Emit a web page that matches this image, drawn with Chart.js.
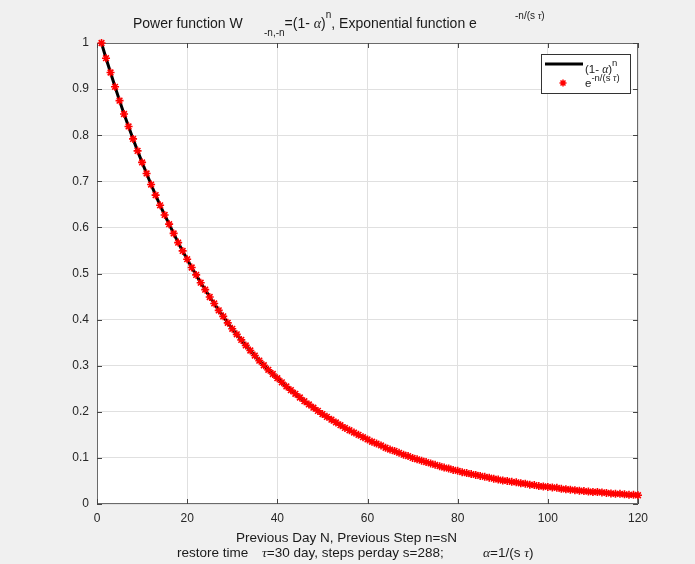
<!DOCTYPE html>
<html>
<head>
<meta charset="utf-8">
<script src="https://cdn.jsdelivr.net/npm/chart.js@4/dist/chart.umd.min.js"></script>
<style>
  html, body { margin: 0; padding: 0; background: #f0f0f0; }
  #wrap { width: 695px; height: 564px; }
</style>
</head>
<body>
<div id="wrap"><canvas id="graph" width="695" height="564"></canvas></div>
<script>
// previous day index N
const days = [
    1, 2, 3, 4, 5, 6, 7, 8, 9, 10, 11, 12, 13, 14, 15, 16, 17, 18, 19, 20,
    21, 22, 23, 24, 25, 26, 27, 28, 29, 30, 31, 32, 33, 34, 35, 36, 37, 38, 39, 40,
    41, 42, 43, 44, 45, 46, 47, 48, 49, 50, 51, 52, 53, 54, 55, 56, 57, 58, 59, 60,
    61, 62, 63, 64, 65, 66, 67, 68, 69, 70, 71, 72, 73, 74, 75, 76, 77, 78, 79, 80,
    81, 82, 83, 84, 85, 86, 87, 88, 89, 90, 91, 92, 93, 94, 95, 96, 97, 98, 99, 100,
    101, 102, 103, 104, 105, 106, 107, 108, 109, 110, 111, 112, 113, 114, 115, 116, 117, 118, 119, 120,
]
// both curves sit on top of each other in the picture, so one set of readings
const weights = [
    1.000, 0.967, 0.936, 0.905, 0.875, 0.846, 0.819, 0.792, 0.766, 0.741,
    0.717, 0.693, 0.670, 0.648, 0.627, 0.607, 0.587, 0.567, 0.549, 0.531,
    0.513, 0.497, 0.480, 0.465, 0.449, 0.435, 0.420, 0.407, 0.393, 0.380,
    0.368, 0.356, 0.344, 0.333, 0.322, 0.311, 0.301, 0.291, 0.282, 0.273,
    0.264, 0.255, 0.247, 0.239, 0.231, 0.223, 0.216, 0.209, 0.202, 0.195,
    0.189, 0.183, 0.177, 0.171, 0.165, 0.160, 0.155, 0.150, 0.145, 0.140,
    0.135, 0.131, 0.127, 0.122, 0.118, 0.115, 0.111, 0.107, 0.104, 0.100,
    0.097, 0.094, 0.091, 0.088, 0.085, 0.082, 0.079, 0.077, 0.074, 0.072,
    0.069, 0.067, 0.065, 0.063, 0.061, 0.059, 0.057, 0.055, 0.053, 0.051,
    0.050, 0.048, 0.047, 0.045, 0.044, 0.042, 0.041, 0.039, 0.038, 0.037,
    0.036, 0.035, 0.033, 0.032, 0.031, 0.030, 0.029, 0.028, 0.027, 0.026,
    0.026, 0.025, 0.024, 0.023, 0.022, 0.022, 0.021, 0.020, 0.020, 0.019,
]
const xRange = [0, 120]
const xStep = 20
const yRange = [0, 1]
const yStep = 0.1

const points = days.map((d, i) => ({ x: d, y: weights[i] }))

const SANS = '"Liberation Sans", Arial, sans-serif'
const SERIF = '"Liberation Serif", "DejaVu Serif", serif'
const AXIS = '#6a6a6a'

function drawRich(ctx, x, y, parts, base) {
    parts.forEach(p => {
        const size = p.size || base
        ctx.font = (p.greek ? 'italic ' : '') + size + 'px ' + (p.greek ? SERIF : SANS)
        ctx.fillText(p.t, x, y + (p.dy || 0))
        x += ctx.measureText(p.t).width
    })
}

function drawStar(ctx, x, y, r) {
    ctx.beginPath()
    for (let a = 0; a < 4; a++) {
        const ang = a * Math.PI / 4
        ctx.moveTo(x - Math.cos(ang) * r, y - Math.sin(ang) * r)
        ctx.lineTo(x + Math.cos(ang) * r, y + Math.sin(ang) * r)
    }
    ctx.stroke()
}

const matlabLook = {
    id: 'matlabLook',
    beforeDraw(chart) {
        const { ctx, chartArea: a } = chart
        ctx.save()
        ctx.fillStyle = '#fff'
        ctx.fillRect(a.left, a.top, a.right - a.left, a.bottom - a.top)
        ctx.restore()
    },
    beforeDatasetsDraw(chart) {
        const { ctx, chartArea: a } = chart
        const xs = chart.scales.x, ys = chart.scales.y
        ctx.save()
        ctx.strokeStyle = AXIS
        ctx.lineWidth = 1
        ctx.strokeRect(a.left + 0.5, a.top + 0.5, a.right - a.left - 1, a.bottom - a.top - 1)
        // inward ticks on all four sides
        ctx.strokeStyle = '#444'
        ctx.beginPath()
        xs.ticks.forEach(t => {
            const px = Math.round(xs.getPixelForValue(t.value)) + 0.5
            ctx.moveTo(px, a.bottom); ctx.lineTo(px, a.bottom - 5)
            ctx.moveTo(px, a.top); ctx.lineTo(px, a.top + 5)
        })
        ys.ticks.forEach(t => {
            const py = Math.round(ys.getPixelForValue(t.value)) + 0.5
            ctx.moveTo(a.left, py); ctx.lineTo(a.left + 5, py)
            ctx.moveTo(a.right, py); ctx.lineTo(a.right - 5, py)
        })
        ctx.stroke()
        ctx.restore()
    },
    afterDatasetsDraw(chart) {
        const { ctx, chartArea: a } = chart
        const bx = a.right - 97, by = a.top + 11
        ctx.save()
        ctx.fillStyle = '#fff'
        ctx.fillRect(bx, by, 89, 39)
        ctx.strokeStyle = '#333'
        ctx.lineWidth = 1
        ctx.strokeRect(bx + 0.5, by + 0.5, 89, 39)
        ctx.strokeStyle = '#000'
        ctx.lineWidth = 3
        ctx.beginPath()
        ctx.moveTo(bx + 4, by + 10); ctx.lineTo(bx + 42, by + 10)
        ctx.stroke()
        ctx.strokeStyle = '#ff0000'
        ctx.lineWidth = 1.5
        drawStar(ctx, bx + 22, by + 29, 3.5)
        ctx.fillStyle = '#1a1a1a'
        ctx.textBaseline = 'alphabetic'
        ctx.textAlign = 'left'
        drawRich(ctx, bx + 44, by + 19, [
            { t: '(1- ' }, { t: 'α', greek: true }, { t: ')' }, { t: 'n', size: 9.5, dy: -7 },
        ], 11.5)
        drawRich(ctx, bx + 44, by + 33, [
            { t: 'e' }, { t: '-n/(s ', size: 9.5, dy: -6 }, { t: 'τ', greek: true, size: 9.5, dy: -6 },
            { t: ')', size: 9.5, dy: -6 },
        ], 11.5)
        ctx.restore()
    },
    afterDraw(chart) {
        const ctx = chart.ctx
        ctx.save()
        ctx.fillStyle = '#1a1a1a'
        ctx.textBaseline = 'alphabetic'
        ctx.textAlign = 'left'
        // title
        drawRich(ctx, 133, 28, [{ t: 'Power function W' }], 14)
        drawRich(ctx, 264, 28, [
            { t: '-n,-n', size: 10, dy: 8 }, { t: '=(1- ' }, { t: 'α', greek: true }, { t: ')' },
            { t: 'n', size: 10, dy: -10 }, { t: ', Exponential function e' },
        ], 14)
        drawRich(ctx, 515, 28, [
            { t: '-n/(s ', size: 10, dy: -9 }, { t: 'τ', greek: true, size: 10, dy: -9 },
            { t: ')', size: 10, dy: -9 },
        ], 14)
        // x label, two lines
        drawRich(ctx, 236, 542, [{ t: 'Previous Day N, Previous Step n=sN' }], 13.5)
        drawRich(ctx, 177, 557, [{ t: 'restore time' }], 13.5)
        drawRich(ctx, 262, 557, [{ t: 'τ', greek: true }, { t: '=30 day, steps perday s=288;' }], 13.5)
        drawRich(ctx, 483, 557, [
            { t: 'α', greek: true }, { t: '=1/(s ' }, { t: 'τ', greek: true }, { t: ')' },
        ], 13.5)
        ctx.restore()
    },
}

const ctx = document.getElementById('graph').getContext('2d')
const chart = new Chart(ctx, {
    type: 'scatter',
    data: {
        datasets: [
            {
                label: 'e^-n/(s tau)',
                data: points,
                showLine: false,
                pointStyle: 'star',
                pointRadius: 4,
                pointHoverRadius: 4,
                borderColor: '#ff0000',
                backgroundColor: '#ff0000',
                borderWidth: 1.6,
                clip: false,
                order: 0,
            },
            {
                label: '(1-alpha)^n',
                data: points,
                showLine: true,
                borderColor: '#000',
                borderWidth: 3,
                pointRadius: 0,
                pointHoverRadius: 0,
                order: 1,
            },
        ],
    },
    options: {
        responsive: false,
        animation: false,
        events: [],
        layout: { padding: { left: 0, top: 43, right: 57, bottom: 0 } },
        plugins: {
            legend: { display: false },
            title: { display: false },
            tooltip: { enabled: false },
        },
        scales: {
            x: {
                type: 'linear',
                min: xRange[0],
                max: xRange[1],
                afterFit: s => { s.height = 60 },
                border: { display: false },
                grid: { color: '#e0e0e0', drawTicks: false },
                ticks: {
                    stepSize: xStep,
                    padding: 7,
                    color: '#262626',
                    font: { family: SANS, size: 12 },
                },
            },
            y: {
                min: yRange[0],
                max: yRange[1],
                afterFit: s => { s.width = 97 },
                border: { display: false },
                grid: { color: '#e0e0e0', drawTicks: false },
                ticks: {
                    stepSize: yStep,
                    padding: 8,
                    color: '#262626',
                    font: { family: SANS, size: 12 },
                    callback: v => String(+v.toFixed(1)),
                },
            },
        },
    },
    plugins: [matlabLook],
})
</script>
</body>
</html>
